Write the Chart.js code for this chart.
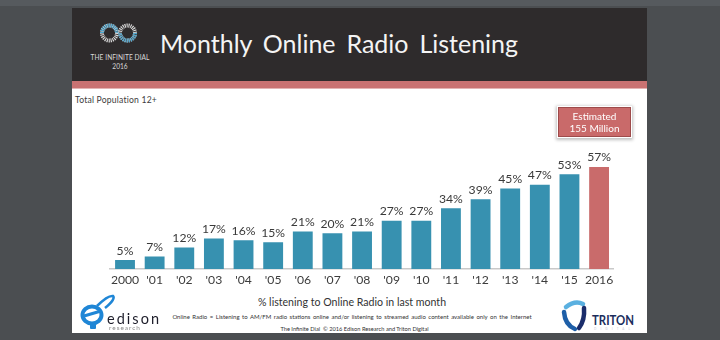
<!DOCTYPE html>
<html>
<head>
<meta charset="utf-8">
<script src="https://cdn.jsdelivr.net/npm/chart.js@4.4.0/dist/chart.umd.min.js"></script>
<style>
  html, body { margin: 0; padding: 0; }
  body { width: 720px; height: 340px; background: #4b4e51; position: relative; overflow: hidden; font-family: Lato, "Open Sans", sans-serif; }
  #topband { position: absolute; left: 0; top: 0; width: 720px; height: 6px; background: #565a5e; }
  #slide { position: absolute; left: 72px; top: 8px; width: 575px; height: 325px; background: #ffffff; }
  #header { position: absolute; left: 0; top: 0; width: 575px; height: 73px; background: #2e2b2c; }
  #stripe { position: absolute; left: 0; top: 73px; width: 575px; height: 7px; background: #c97272; border-bottom: 1px solid #e3b3b3; }
  #title { position: absolute; left: 88px; top: 20px; color: #f4f4f4; font-size: 25px; word-spacing: 4.5px; white-space: nowrap; }
  #dial { position: absolute; left: 17px; top: 44px; }
  #logo { position: absolute; left: 27px; top: 14px; }
  #subtitle { position: absolute; left: 3px; top: 87px; font-size: 8.6px; color: #3c3c3c; letter-spacing: 0.2px; }
  #chartbox { position: absolute; left: 0; top: 81px; width: 575px; height: 204px; }
  #estimate { position: absolute; left: 486px; top: 99px; width: 73px; height: 30px; background: #c96a6a; border: 1px solid #9e4b4b; outline: 1.5px solid #ffffff; box-shadow: 0 1px 3px 2px rgba(0,0,0,0.25); color: #ffffff; text-align: center; font-size: 10px; line-height: 11.5px; padding-top: 3px; box-sizing: border-box; }
  #axistitle { position: absolute; left: 0; width: 560px; top: 288px; text-align: center; font-size: 10.6px; color: #333; }
  #note { position: absolute; left: 0; width: 560px; top: 305px; text-align: center; font-size: 6px; color: #333; word-spacing: 1px; }
  #credit { position: absolute; left: 0; width: 565px; top: 317px; text-align: center; font-size: 5.7px; color: #333; }
  #edison { position: absolute; left: 8px; top: 279px; }
  #triton { position: absolute; left: 489px; top: 285px; }
</style>
</head>
<body>
<div id="topband"></div>
<div id="slide">
  <div id="header">
    <svg id="logo" width="40" height="22" viewBox="0 0 40 22">
      <circle cx="10.5" cy="11" r="7.5" fill="none" stroke="#d9d9d9" stroke-width="4" stroke-dasharray="1.1 0.8"/>
      <path d="M 3 11 A 7.5 7.5 0 0 1 18 11" fill="none" stroke="#4aa6d0" stroke-width="4" stroke-dasharray="1.1 0.8"/>
      <circle cx="28.5" cy="11" r="7.5" fill="none" stroke="#d9d9d9" stroke-width="4" stroke-dasharray="1.1 0.8"/>
      <path d="M 36 11 A 7.5 7.5 0 0 1 21 11" fill="none" stroke="#4aa6d0" stroke-width="4" stroke-dasharray="1.1 0.8"/>
    </svg>
    <svg id="dial" width="62" height="20" viewBox="0 0 62 20">
      <text x="1.5" y="7.5" font-family="Lato, sans-serif" font-size="6.6" fill="#d8d8d8" textLength="59" lengthAdjust="spacing">THE INFINITE DIAL</text>
      <text x="31" y="17" font-family="Lato, sans-serif" font-size="6.6" fill="#d8d8d8" text-anchor="middle">2016</text>
    </svg>
    <div id="title">Monthly Online Radio Listening</div>
  </div>
  <div id="stripe"></div>
  <div id="subtitle">Total Population 12+</div>
  <div id="chartbox"><canvas id="chart"></canvas></div>
  <div id="estimate">Estimated<br>155 Million</div>
  <div id="axistitle">% listening to Online Radio in last month</div>
  <div id="note">Online Radio = Listening to AM/FM radio stations online and/or listening to streamed audio content available only on the Internet</div>
  <div id="credit">The Infinite Dial&nbsp;&nbsp;© 2016 Edison Research and Triton Digital</div>
  <svg id="edison" width="84" height="46" viewBox="0 0 84 46">
    <ellipse cx="12" cy="28" rx="9.5" ry="8.5" fill="none" stroke="#1f86d6" stroke-width="4"/>
    <path d="M 4 29 L 21 24" stroke="#1f86d6" stroke-width="3"/>
    <path d="M 17 19 Q 28 8 33 9 Q 36 12 25 21" fill="none" stroke="#1f86d6" stroke-width="2.5"/>
    <rect x="10" y="37" width="6" height="5" rx="1" fill="#1f86d6"/>
    <text x="27" y="37" font-family="Lato, sans-serif" font-size="14.5" fill="#1d1d2a" textLength="52" lengthAdjust="spacing">edison</text>
    <text x="29" y="43" font-family="Lato, sans-serif" font-size="6.5" fill="#8a8a8a" textLength="31" lengthAdjust="spacing">research</text>
  </svg>
  <svg id="triton" width="80" height="40" viewBox="0 0 80 40">
    <path d="M 5 14 Q 14 7 22 11" fill="none" stroke="#5ab0e0" stroke-width="4.5" stroke-linecap="round"/>
    <path d="M 23 15 Q 24 27 18 35" fill="none" stroke="#1b2d6b" stroke-width="4.5" stroke-linecap="round"/>
    <path d="M 14 36 Q 4 32 3 19" fill="none" stroke="#1e5fa8" stroke-width="4.5" stroke-linecap="round"/>
    <text x="31" y="32" font-family="Lato, sans-serif" font-weight="bold" font-size="14" fill="#1b2d5c" textLength="42" lengthAdjust="spacingAndGlyphs">TRITON</text>
    <text x="33" y="37" font-family="Lato, sans-serif" font-size="3" fill="#c8c8d8" textLength="36" lengthAdjust="spacing">DIGITAL</text>
  </svg>
</div>
<script>
// Share of Americans 12+ who listened to online radio in the last month
const years = ["2000", "'01", "'02", "'03", "'04", "'05", "'06", "'07", "'08", "'09", "'10", "'11", "'12", "'13", "'14", "'15", "2016"];
const listeningPct = [5, 7, 12, 17, 16, 15, 21, 20, 21, 27, 27, 34, 39, 45, 47, 53, 57];
const barColors = ["#3791b0", "#3791b0", "#3791b0", "#3791b0", "#3791b0", "#3791b0", "#3791b0", "#3791b0", "#3791b0", "#3791b0", "#3791b0", "#3791b0", "#3791b0", "#3791b0", "#3791b0", "#3791b0", "#c96b6b"];

// Percent labels above each bar
const valueLabels = {
  id: 'valueLabels',
  afterDatasetsDraw(chart) {
    const ctx = chart.ctx;
    const meta = chart.getDatasetMeta(0);
    ctx.save();
    ctx.font = '12.2px Lato, "Open Sans", sans-serif';
    ctx.fillStyle = '#3a3a3a';
    ctx.textAlign = 'center';
    ctx.textBaseline = 'alphabetic';
    meta.data.forEach((bar, i) => {
      ctx.fillText(listeningPct[i] + '%', bar.x, bar.y - 5.5);
    });
    ctx.restore();
  }
};

new Chart(document.getElementById('chart'), {
  type: 'bar',
  data: {
    labels: years,
    datasets: [{
      data: listeningPct,
      backgroundColor: barColors,
      borderWidth: 0,
      categoryPercentage: 1,
      barPercentage: 0.67
    }]
  },
  options: {
    responsive: true,
    maintainAspectRatio: false,
    animation: false,
    layout: { padding: { left: 38.2, right: 33.1, top: 1, bottom: 0 } },
    plugins: { legend: { display: false }, tooltip: { enabled: false } },
    scales: {
      x: {
        grid: { display: false, drawTicks: false },
        border: { display: true, color: '#c9c9c9', width: 1.5 },
        ticks: { color: '#3c3c3c', font: { size: 12.2, family: 'Lato, "Open Sans", sans-serif' }, padding: 4, maxRotation: 0, autoSkip: false },
        afterFit(scale) { scale.height = 24; }
      },
      y: {
        display: false,
        min: 0,
        max: 100
      }
    }
  },
  plugins: [valueLabels]
});
</script>
</body>
</html>
